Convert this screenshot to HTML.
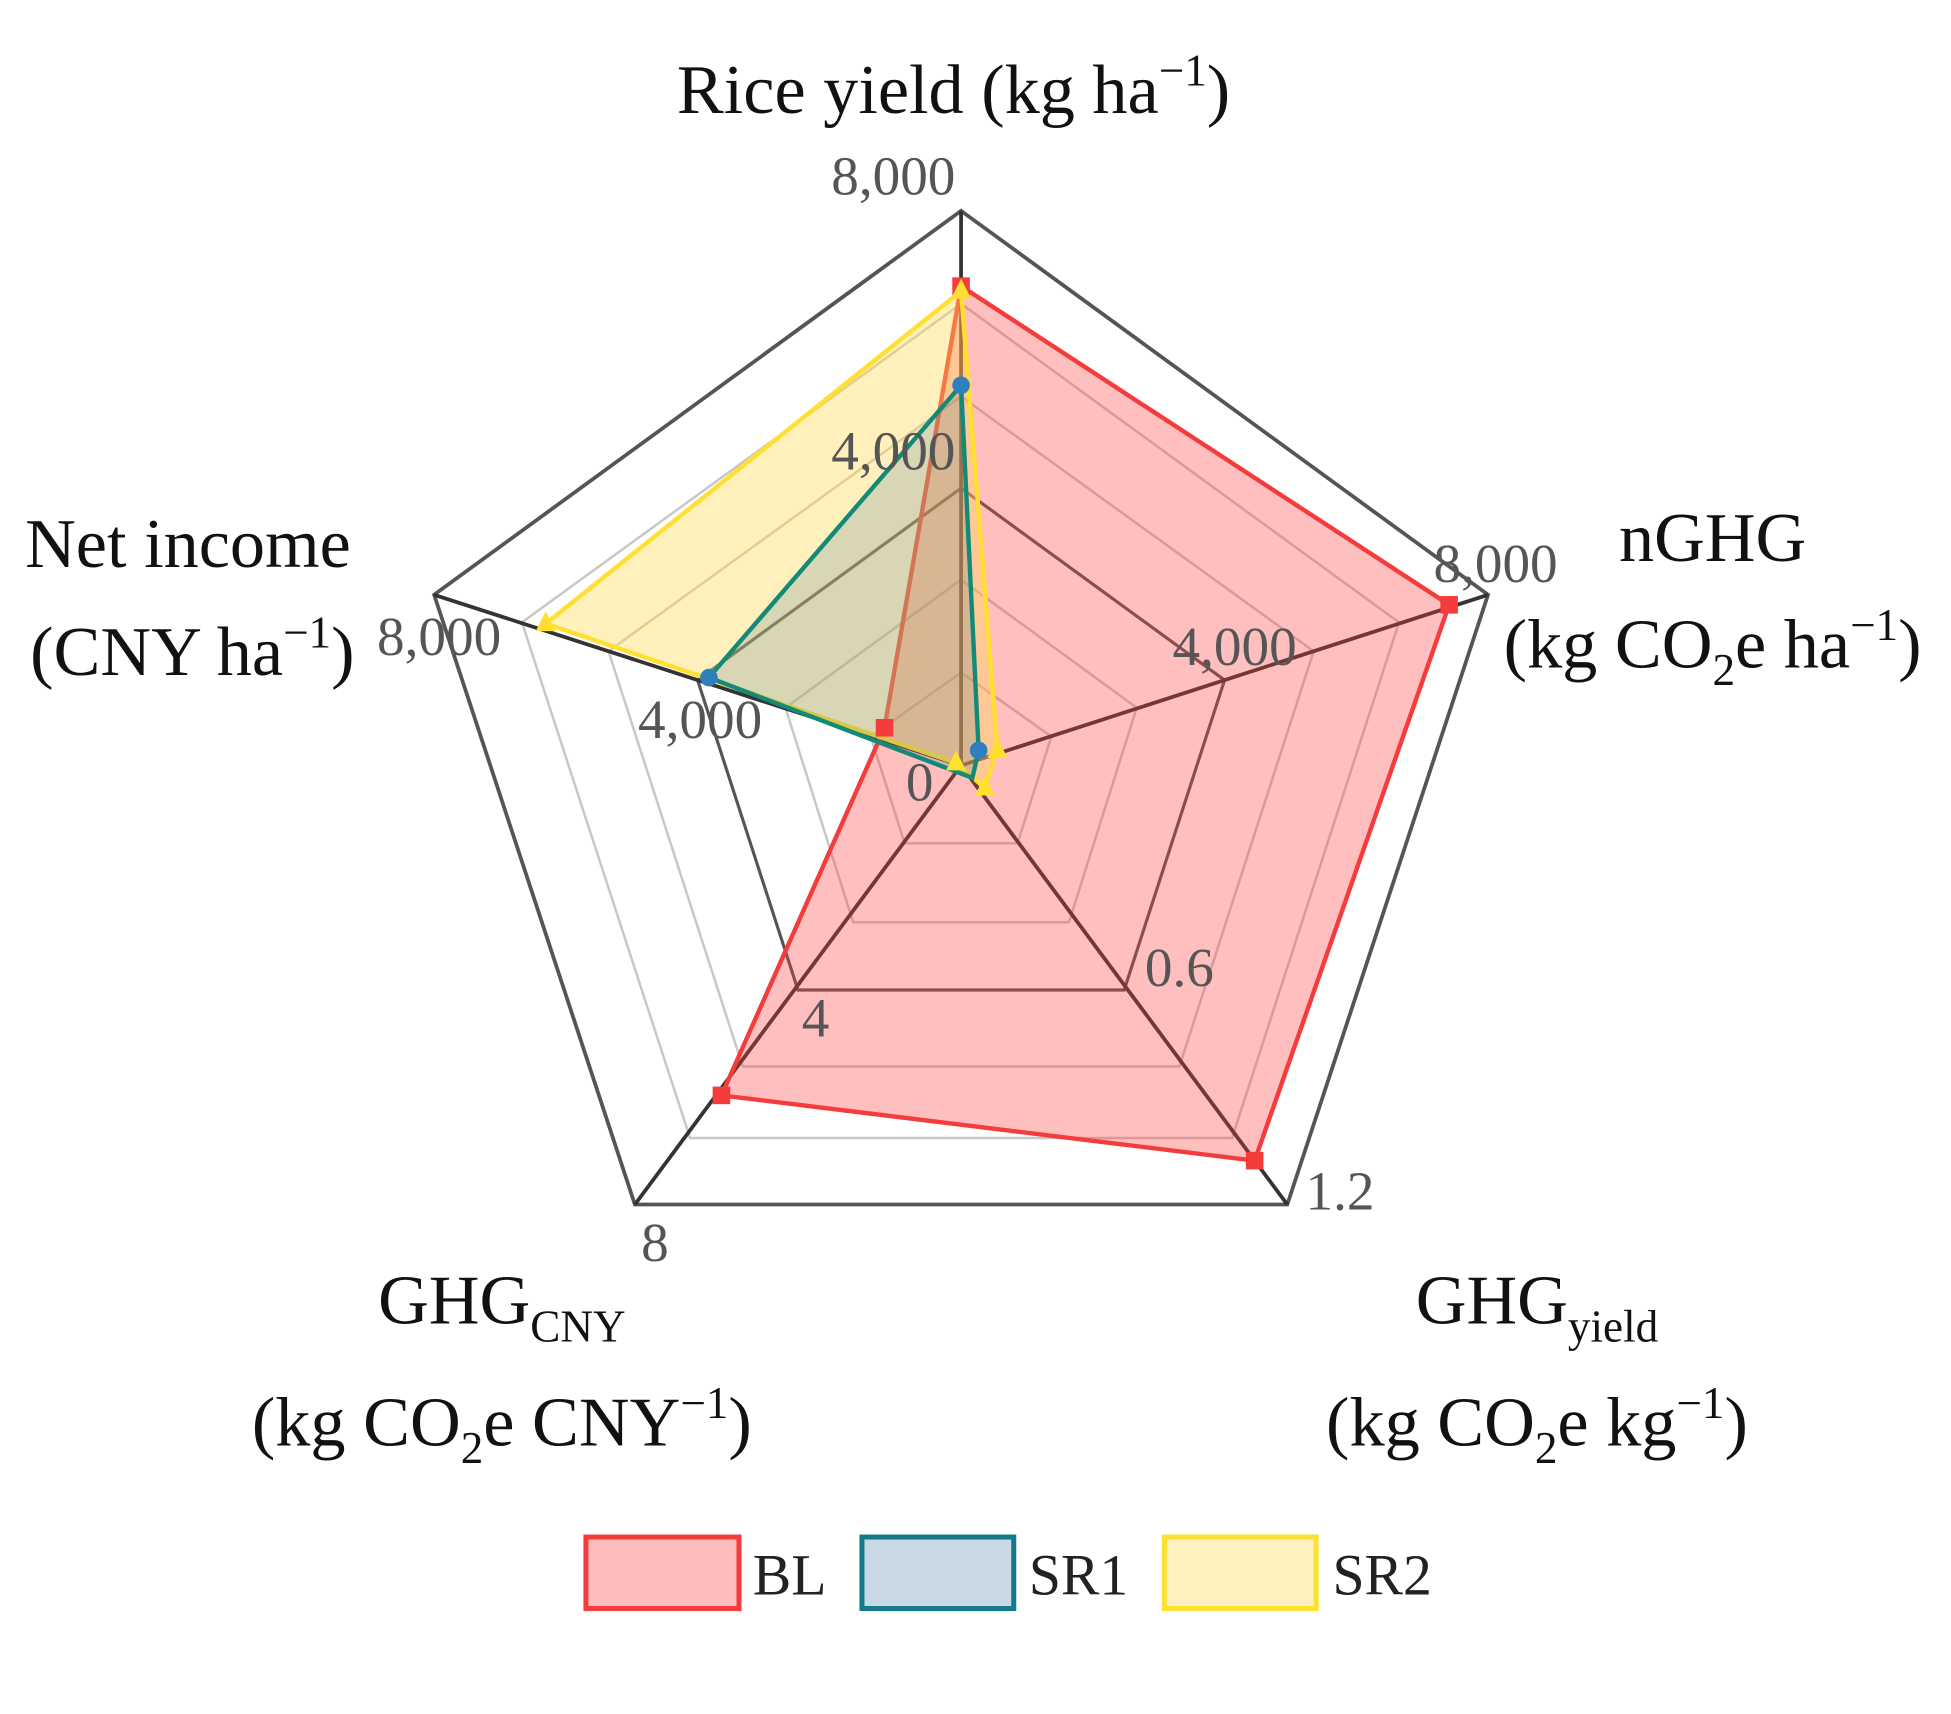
<!DOCTYPE html>
<html><head><meta charset="utf-8"><style>
html,body{margin:0;padding:0;background:#fff;}
svg{display:block;}
text{font-family:"Liberation Serif",serif;}
</style></head><body>
<svg width="1951" height="1714" viewBox="0 0 1555 1366" xmlns="http://www.w3.org/2000/svg">
<rect width="1555" height="1366" fill="#fff"/>
<g fill="none" stroke="#c8c8c8" stroke-width="2">
<polygon points="766,536 838,587 811,672 721,672 694,587"/>
<polygon points="766,462 906,564 852,735 680,735 626,564"/>
<polygon points="766,316 1047,519 940,850 592,850 485,519"/>
<polygon points="766,242 1115,496 982,907 550,907 416,496"/>
</g>
<polygon points="766,389 976,542 896,789 636,789 556,542" fill="none" stroke="#555" stroke-width="2.5"/>
<polygon points="766,168 1186,474 1026,960 506,960 346,474" fill="none" stroke="#555" stroke-width="3"/>
<g stroke="#333" stroke-width="3">
<line x1="766" y1="610" x2="766" y2="168"/><line x1="766" y1="610" x2="1186" y2="474"/>
<line x1="766" y1="610" x2="1026" y2="960"/><line x1="766" y1="610" x2="506" y2="960"/>
<line x1="766" y1="610" x2="346" y2="474"/>
</g>
<polygon points="766,228 1155,482 1000,925 575,873 705,580" fill="rgba(255,60,60,0.33)" stroke="#f43c3c" stroke-width="3.5"/>
<polygon points="766,232 795,597 785,628 762,608 435,497" fill="rgba(255,215,80,0.38)" stroke="#ffe030" stroke-width="3.5"/>
<polygon points="766,307 780,598 775,620 770,618 565,540" fill="rgba(60,110,150,0.2)" stroke="#138a78" stroke-width="3.5"/>
<g fill="#f43c3c"><rect x="759" y="221" width="14" height="14"/><rect x="1148" y="475" width="14" height="14"/><rect x="993" y="918" width="14" height="14"/><rect x="568" y="866" width="14" height="14"/><rect x="698" y="573" width="14" height="14"/></g>
<g fill="#2f7fbf"><circle cx="766" cy="307" r="7"/><circle cx="565" cy="540" r="7"/><circle cx="780" cy="598" r="7"/></g>
<g fill="#ffe030"><polygon points="766,222 758,238 774,238"/><polygon points="435,487 427,503 443,503"/><polygon points="795,588 787,604 803,604"/><polygon points="785,618 777,634 793,634"/><polygon points="762,598 754,614 770,614"/></g>
<g fill="#555" font-size="44">
<text x="712" y="155" text-anchor="middle">8,000</text>
<text x="712" y="374" text-anchor="middle">4,000</text>
<text x="1192" y="464" text-anchor="middle">8,000</text>
<text x="984" y="530" text-anchor="middle">4,000</text>
<text x="350" y="522" text-anchor="middle">8,000</text>
<text x="558" y="588" text-anchor="middle">4,000</text>
<text x="733" y="638" text-anchor="middle">0</text>
<text x="940" y="786" text-anchor="middle">0.6</text>
<text x="1068" y="964" text-anchor="middle">1.2</text>
<text x="650" y="826" text-anchor="middle">4</text>
<text x="522" y="1005" text-anchor="middle">8</text>
</g>
<g fill="#111" font-size="56">
<text x="760" y="90" text-anchor="middle">Rice yield (kg ha<tspan dy="-22" font-size="36">−1</tspan><tspan dy="22">)</tspan></text>
<text x="20" y="452">Net income</text>
<text x="24" y="538">(CNY ha<tspan dy="-22" font-size="36">−1</tspan><tspan dy="22">)</tspan></text>
<text x="1365" y="447" text-anchor="middle">nGHG</text>
<text x="1365" y="532" text-anchor="middle">(kg CO<tspan dy="14" font-size="36">2</tspan><tspan dy="-14">e ha</tspan><tspan dy="-22" font-size="36">−1</tspan><tspan dy="22">)</tspan></text>
<text x="400" y="1055" text-anchor="middle">GHG<tspan dy="14" font-size="36">CNY</tspan></text>
<text x="400" y="1152" text-anchor="middle">(kg CO<tspan dy="14" font-size="36">2</tspan><tspan dy="-14">e CNY</tspan><tspan dy="-22" font-size="36">−1</tspan><tspan dy="22">)</tspan></text>
<text x="1225" y="1055" text-anchor="middle">GHG<tspan dy="14" font-size="36">yield</tspan></text>
<text x="1225" y="1152" text-anchor="middle">(kg CO<tspan dy="14" font-size="36">2</tspan><tspan dy="-14">e kg</tspan><tspan dy="-22" font-size="36">−1</tspan><tspan dy="22">)</tspan></text>
</g>
<rect x="467" y="1225" width="122" height="57" fill="#ffbcbc" stroke="#f43c3c" stroke-width="4"/>
<rect x="687" y="1225" width="121" height="57" fill="#c9d9e6" stroke="#137a8a" stroke-width="4"/>
<rect x="928" y="1225" width="121" height="57" fill="#fff0c0" stroke="#ffe030" stroke-width="4"/>
<g fill="#222" font-size="46">
<text x="600" y="1271">BL</text><text x="820" y="1271">SR1</text><text x="1062" y="1271">SR2</text>
</g>
</svg>
</body></html>
